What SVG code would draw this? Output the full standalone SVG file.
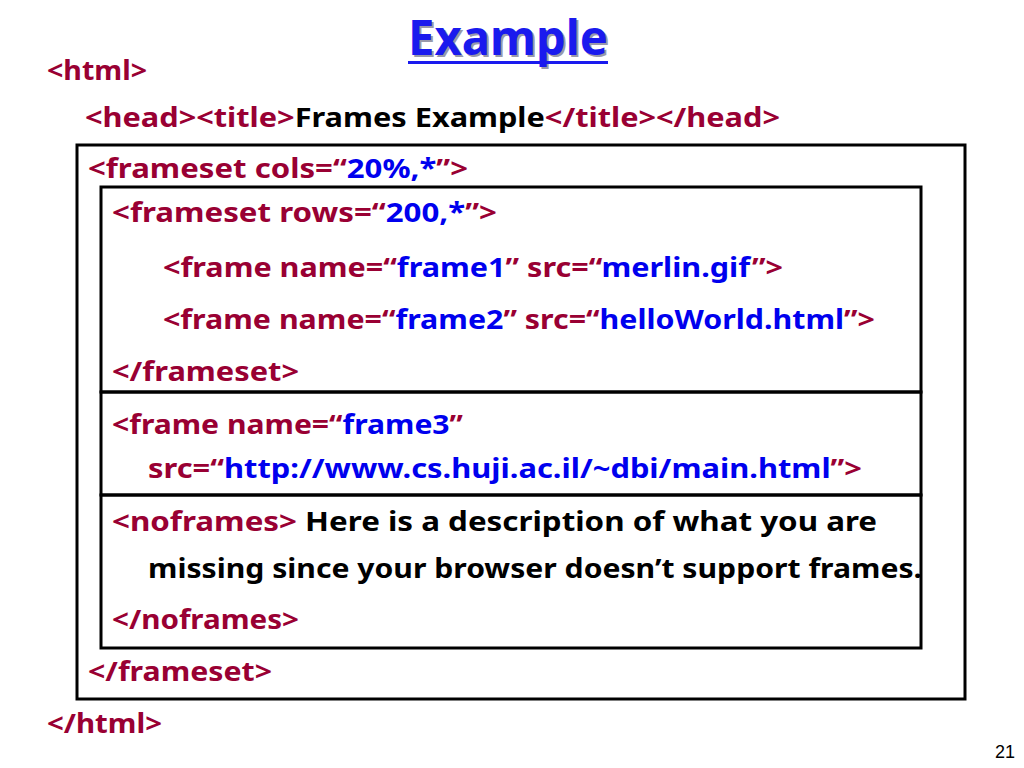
<svg xmlns="http://www.w3.org/2000/svg" width="1024" height="768" viewBox="0 0 1024 768">
<style>
.t{font-family:"Noto Sans","DejaVu Sans",sans-serif;font-weight:bold;font-size:27px;fill:#990033}
.b{fill:#0000ee}
.k{fill:#000000}
.box{fill:none;stroke:#000;stroke-width:3}
.ttl{font-family:"Noto Sans","DejaVu Sans",sans-serif;font-weight:bold;font-size:48px}
</style>
<rect width="1024" height="768" fill="#fff"/>
<g id="title">
<text class="ttl" x="510" y="57" text-anchor="middle" fill="#9999aa" textLength="200" lengthAdjust="spacingAndGlyphs">Example</text>
<text class="ttl" x="508" y="55" text-anchor="middle" fill="#1a1aee" textLength="200" lengthAdjust="spacingAndGlyphs">Example</text>
<rect x="408" y="61" width="200" height="3" fill="#1a1aee"/>
</g>
<g id="boxes">
<rect id="outer" class="box" x="77" y="145" width="888" height="554"/>
<rect id="rows" class="box" x="101" y="187" width="820" height="205"/>
<rect id="frame3" class="box" x="101" y="392" width="820" height="103"/>
<rect id="noframes" class="box" x="101" y="495" width="820" height="153"/>
</g>
<g id="code">
<text class="t" x="47" y="80" textLength="100" lengthAdjust="spacingAndGlyphs">&lt;html&gt;</text>
<text class="t" x="85" y="127" textLength="695" lengthAdjust="spacingAndGlyphs">&lt;head&gt;&lt;title&gt;<tspan class="k">Frames Example</tspan>&lt;/title&gt;&lt;/head&gt;</text>
<text class="t" x="88" y="178" textLength="380" lengthAdjust="spacingAndGlyphs">&lt;frameset cols=“<tspan class="b">20%,*</tspan>”&gt;</text>
<text class="t" x="112" y="222" textLength="385" lengthAdjust="spacingAndGlyphs">&lt;frameset rows=“<tspan class="b">200,*</tspan>”&gt;</text>
<text class="t" x="163" y="277" textLength="620" lengthAdjust="spacingAndGlyphs">&lt;frame name=“<tspan class="b">frame1</tspan>” src=“<tspan class="b">merlin.gif</tspan>”&gt;</text>
<text class="t" x="163" y="329" textLength="712" lengthAdjust="spacingAndGlyphs">&lt;frame name=“<tspan class="b">frame2</tspan>” src=“<tspan class="b">helloWorld.html</tspan>”&gt;</text>
<text class="t" x="112" y="381" textLength="187" lengthAdjust="spacingAndGlyphs">&lt;/frameset&gt;</text>
<text class="t" x="112" y="434" textLength="351" lengthAdjust="spacingAndGlyphs">&lt;frame name=“<tspan class="b">frame3</tspan>”</text>
<text class="t" x="148" y="478" textLength="714" lengthAdjust="spacingAndGlyphs">src=“<tspan class="b">http://www.cs.huji.ac.il/~dbi/main.html</tspan>”&gt;</text>
<text class="t" x="112" y="531" textLength="765" lengthAdjust="spacingAndGlyphs">&lt;noframes&gt; <tspan class="k">Here is a description of what you are</tspan></text>
<text class="t k" x="148" y="578" textLength="774" lengthAdjust="spacingAndGlyphs">missing since your browser doesn’t support frames.</text>
<text class="t" x="112" y="629" textLength="187" lengthAdjust="spacingAndGlyphs">&lt;/noframes&gt;</text>
<text class="t" x="88" y="681" textLength="184" lengthAdjust="spacingAndGlyphs">&lt;/frameset&gt;</text>
<text class="t" x="47" y="733" textLength="115" lengthAdjust="spacingAndGlyphs">&lt;/html&gt;</text>
</g>
<text x="1015" y="758" text-anchor="end" font-family="Liberation Sans, sans-serif" font-size="18" fill="#000">21</text>
</svg>
